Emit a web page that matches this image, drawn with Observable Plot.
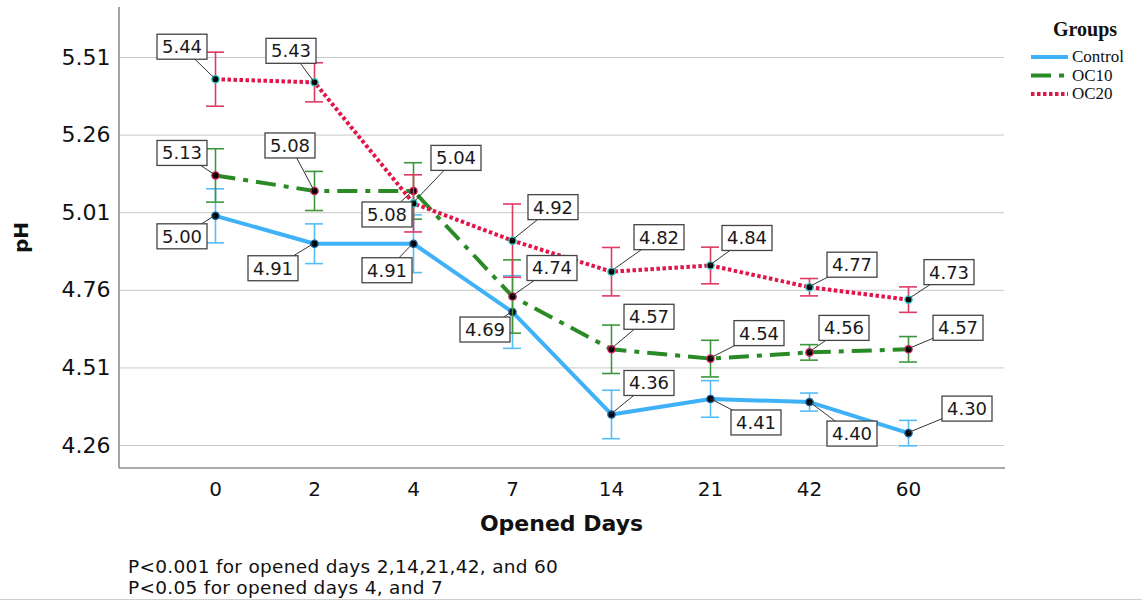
<!DOCTYPE html>
<html>
<head>
<meta charset="utf-8">
<script src="https://cdn.jsdelivr.net/npm/d3@7"></script>
<script src="https://cdn.jsdelivr.net/npm/@observablehq/plot@0.6"></script>
<style>
  html, body { margin: 0; padding: 0; background: #fff; }
  #wrap { width: 1142px; height: 602px; position: relative; overflow: hidden; }
  #caption { font-family: "DejaVu Sans", sans-serif; font-size: 18.5px; letter-spacing: 0.3px; color: #111;
             padding-left: 128px; margin-top: 12px; line-height: 20.5px; }
  #rule { position: absolute; left: 0; right: 0; top: 599px; height: 1px; background: #cfcfcf; }
</style>
</head>
<body>
<div id="wrap">
  <div id="chart"></div>
  <div id="caption">
    <div>P&lt;0.001 for opened days 2,14,21,42, and 60</div>
    <div>P&lt;0.05 for opened days 4, and 7</div>
  </div>
  <div id="rule"></div>
</div>
<script>
// ---- data ----
const days = ["0", "2", "4", "7", "14", "21", "42", "60"];
const groups = ["Control", "OC10", "OC20"];
const controlMean = [5.00, 4.91, 4.91, 4.69, 4.36, 4.41, 4.40, 4.30];
const oc10Mean    = [5.13, 5.08, 5.08, 4.74, 4.57, 4.54, 4.56, 4.57];
const oc20Mean    = [5.44, 5.43, 5.04, 4.92, 4.82, 4.84, 4.77, 4.73];
const controlErr  = [0.087, 0.064, 0.093, 0.117, 0.078, 0.059, 0.029, 0.041];
const oc10Err     = [0.086, 0.063, 0.091, 0.118, 0.078, 0.059, 0.025, 0.041];
const oc20Err     = [0.087, 0.063, 0.092, 0.118, 0.078, 0.059, 0.028, 0.041];
const yTicks = [4.26, 4.51, 4.76, 5.01, 5.26, 5.51];
const xTitle = "Opened Days";
const yTitle = "pH";
const legendTitle = "Groups";

// ---- label placement (layout, pixels from point) ----
const labelOffsets = {
  Control: [[-33,21],[-41,25],[-26,27],[-27,18],[38,-31],[46,24],[43,32],[59,-24]],
  OC10:    [[-33,-22],[-24,-45],[-26,24],[40,-28],[38,-32],[49,-25],[35,-24],[50,-21]],
  OC20:    [[-33,-32],[-23,-31],[43,-45],[41,-33],[48,-34],[37,-27],[43,-22],[41,-27]]
};

// ---- styles ----
const styles = {
  Control: {line: "#3fb1f7", err: "#55bdf8", ring: "#1b5f99", dash: null},
  OC10:    {line: "#2a8a25", err: "#3d973a", ring: "#c8205a", dash: "20,8,5,8"},
  OC20:    {line: "#e0164b", err: "#df3a62", ring: "#33c6c6", dash: "3.5,2.5"}
};

const means = {Control: controlMean, OC10: oc10Mean, OC20: oc20Mean};
const errs = {Control: controlErr, OC10: oc10Err, OC20: oc20Err};
const rows = [];
for (const g of groups) {
  days.forEach((d, i) => {
    rows.push({group: g, day: d, value: means[g][i], lo: means[g][i] - errs[g][i], hi: means[g][i] + errs[g][i], idx: i});
  });
}

function annotations(index, scales, values, dimensions) {
  const {width, height, marginLeft, marginRight, marginTop, marginBottom} = dimensions;
  const xs = scales.x, ys = scales.y;
  const bx = xs.bandwidth ? xs.bandwidth() / 2 : 0;
  const g = d3.create("svg:g");
  // axis lines
  g.append("line").attr("x1", marginLeft).attr("x2", marginLeft)
    .attr("y1", marginTop).attr("y2", height - marginBottom)
    .attr("stroke", "#8c8c8c").attr("stroke-width", 1.6);
  g.append("line").attr("x1", marginLeft).attr("x2", width - marginRight + 1)
    .attr("y1", height - marginBottom).attr("y2", height - marginBottom)
    .attr("stroke", "#8c8c8c").attr("stroke-width", 1.6);
  // value labels
  const lab = g.append("g");
  for (const r of rows) {
    const px = xs(r.day) + bx, py = ys(r.value);
    const [dx, dy] = labelOffsets[r.group][r.idx];
    lab.append("line").attr("x1", px).attr("y1", py).attr("x2", px + dx).attr("y2", py + dy)
      .attr("stroke", "#333").attr("stroke-width", 1);
  }
  for (const r of rows) {
    const px = xs(r.day) + bx, py = ys(r.value);
    const [dx, dy] = labelOffsets[r.group][r.idx];
    const cx = px + dx, cy = py + dy;
    lab.append("rect").attr("x", cx - 25).attr("y", cy - 12.5).attr("width", 50).attr("height", 25)
      .attr("fill", "white").attr("stroke", "#444").attr("stroke-width", 1.3);
    lab.append("text").attr("x", cx).attr("y", cy).attr("dy", "0.36em")
      .attr("text-anchor", "middle").attr("font-family", "DejaVu Sans")
      .attr("font-size", 18).attr("fill", "#1a1a1a").text(r.value.toFixed(2));
  }
  // titles
  g.append("text").attr("transform", `translate(28,${(marginTop + height - marginBottom) / 2}) rotate(-90)`)
    .attr("text-anchor", "middle").attr("font-family", "DejaVu Sans").attr("font-weight", "bold")
    .attr("font-size", 20).attr("fill", "#111").text(yTitle);
  g.append("text").attr("x", (marginLeft + width - marginRight) / 2).attr("y", 531)
    .attr("text-anchor", "middle").attr("font-family", "DejaVu Sans").attr("font-weight", "bold")
    .attr("font-size", 22).attr("fill", "#111").text(xTitle);
  // legend
  const lg = g.append("g");
  lg.append("text").attr("x", 1085).attr("y", 36).attr("text-anchor", "middle")
    .attr("font-family", "Liberation Serif").attr("font-weight", "bold").attr("font-size", 20)
    .attr("fill", "#111").text(legendTitle);
  groups.forEach((gr, i) => {
    const y = 57 + i * 18.5;
    const ln = lg.append("line").attr("x1", 1031).attr("x2", 1068).attr("y1", y).attr("y2", y)
      .attr("stroke", styles[gr].line).attr("stroke-width", 4);
    if (styles[gr].dash) ln.attr("stroke-dasharray", gr === "OC10" ? "20,8,5,8" : "3.5,2.5");
    lg.append("text").attr("x", 1072).attr("y", y + 5).attr("text-anchor", "start")
      .attr("font-family", "Liberation Serif")
      .attr("font-size", 17).attr("fill", "#111").text(gr);
  });
  return g.node();
}

const marks = [
  Plot.gridY(yTicks, {stroke: "#c9c9c9", strokeOpacity: 1, strokeWidth: 1}),
  Plot.axisY(yTicks, {tickSize: 0, tickPadding: 9, tickFormat: d => d.toFixed(2), fontSize: 22, label: null}),
  Plot.axisX({tickSize: 0, tickPadding: 13, fontSize: 20, label: null})
];
for (const g of groups) {
  const data = rows.filter(r => r.group === g);
  marks.push(Plot.line(data, {x: "day", y: "value", stroke: styles[g].line, strokeWidth: 4,
    strokeDasharray: styles[g].dash || undefined, strokeLinecap: "butt", strokeLinejoin: "round"}));
}
for (const g of groups) {
  const data = rows.filter(r => r.group === g);
  marks.push(Plot.ruleX(data, {x: "day", y1: "lo", y2: "hi", stroke: styles[g].err, strokeWidth: 1.6}));
  marks.push(Plot.tickY(data, {x: "day", y: "lo", stroke: styles[g].err, strokeWidth: 1.6}));
  marks.push(Plot.tickY(data, {x: "day", y: "hi", stroke: styles[g].err, strokeWidth: 1.6}));
  marks.push(Plot.dot(data, {x: "day", y: "value", r: 3.6, fill: "#000", stroke: styles[g].ring, strokeWidth: 1.4}));
}
marks.push(annotations);

const chart = Plot.plot({
  width: 1142,
  height: 545,
  marginLeft: 119,
  marginRight: 138,
  marginTop: 7,
  marginBottom: 77,
  style: {fontFamily: "DejaVu Sans", color: "#111", background: "white"},
  x: {type: "band", domain: days, paddingInner: 0.82, paddingOuter: 0.85},
  y: {domain: [4.186, 5.671]},
  marks
});
document.getElementById("chart").appendChild(chart);
</script>
</body>
</html>
